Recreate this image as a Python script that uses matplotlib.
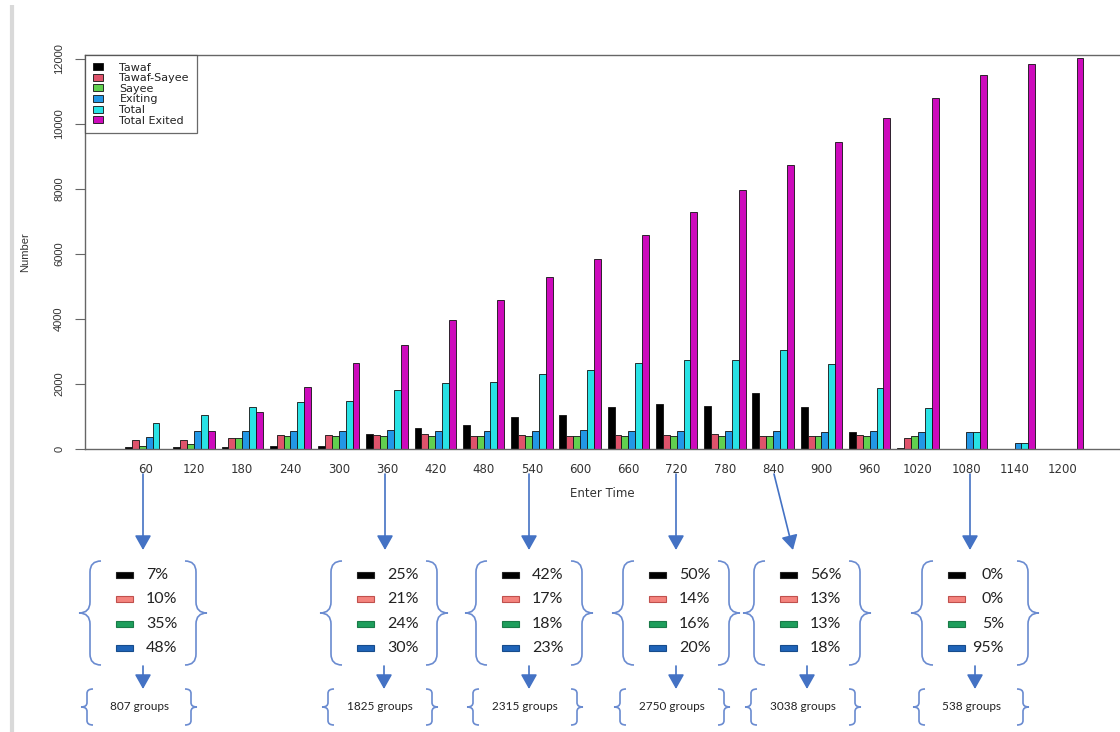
import matplotlib.pyplot as plt
from matplotlib.path import Path
from matplotlib.patches import PathPatch, Rectangle, FancyArrowPatch

# data
times = [60, 120, 180, 240, 300, 360, 420, 480, 540, 600,
         660, 720, 780, 840, 900, 960, 1020, 1080, 1140, 1200]
tawaf = [60, 60, 60, 90, 90, 465, 650, 730, 990, 1060,
         1290, 1380, 1330, 1720, 1280, 510, 20, 10, 5, 0]
tawaf_sayee = [270, 270, 330, 420, 445, 430, 455, 410, 430, 410,
               420, 430, 450, 410, 410, 440, 330, 0, 0, 0]
sayee = [85, 150, 330, 385, 385, 385, 390, 390, 390, 390,
         390, 390, 390, 390, 390, 390, 390, 0, 0, 0]
exiting = [370, 565, 565, 540, 555, 570, 555, 555, 555, 575,
           555, 555, 555, 550, 530, 560, 530, 510, 190, 0]
total = [807, 1060, 1305, 1440, 1490, 1825, 2030, 2070, 2315, 2420,
         2640, 2750, 2730, 3038, 2620, 1880, 1260, 538, 190, 0]
total_exited = [0, 565, 1150, 1910, 2650, 3190, 3960, 4570, 5300, 5860,
                6570, 7300, 7960, 8730, 9450, 10180, 10800, 11520, 11850, 12030]

series = [tawaf, tawaf_sayee, sayee, exiting, total, total_exited]
names = ['Tawaf', 'Tawaf-Sayee', 'Sayee', 'Exiting', 'Total', 'Total Exited']
colors = ['black', '#DF536B', '#61D04F', '#2297E6', '#28E2E5', '#CD0BBC']

# annotation boxes under the chart
ann_times = [60, 360, 540, 720, 840, 1080]
ann_pcts = [[7, 10, 35, 48], [25, 21, 24, 30], [42, 17, 18, 23],
            [50, 14, 16, 20], [56, 13, 13, 18], [0, 0, 5, 95]]
ann_groups = [807, 1825, 2315, 2750, 3038, 538]
box_cx = [143, 384, 529, 676, 807, 975]
arrow_start_x = [143, 385, 529, 676, 774, 970]
arrow_tip_x = [143, 385, 529, 676, 793, 970]
pct_colors = [('black', '#222222'), ('#F4837D', '#C0504D'),
              ('#1E9E5C', '#1A7A48'), ('#1F64B8', '#174C8C')]

W, H = 1120, 732
fig = plt.figure(figsize=(W / 100, H / 100), dpi=100)
fig.patch.set_facecolor('white')

ax = fig.add_axes([85 / W, 1 - 449 / H, (W - 85) / W, (449 - 55) / H])
for k, (vals, name, col) in enumerate(zip(series, names, colors)):
    xs = [7 * g + 1.5 + k for g in range(len(times))]
    ax.bar(xs, vals, width=1, color=col, edgecolor='#111111', linewidth=0.6, label=name)

centers = [7 * g + 4 for g in range(len(times))]
ax.set_xlim(-4.8, 145.3)
ax.set_ylim(0, 12120)
ax.set_xticks(centers)
ax.set_xticklabels([str(t) for t in times], fontsize=8.5, color='#333333',
                   family='DejaVu Sans')
ax.tick_params(axis='x', length=0, pad=10)
ax.set_yticks(range(0, 12001, 2000))
ax.set_yticklabels([str(v) for v in range(0, 12001, 2000)], rotation=90, va='center',
                   fontsize=8, color='#333333', family='Liberation Sans')
ax.tick_params(axis='y', length=7, width=0.8, color='#666666', pad=8)
for s in ['left', 'top', 'bottom']:
    ax.spines[s].set_color('#666666')
    ax.spines[s].set_linewidth(1.0)
ax.spines['right'].set_visible(False)
ax.set_xlabel('Enter Time', fontsize=8.5, color='#333333', labelpad=8,
              family='DejaVu Sans')
ax.set_ylabel('Number', fontsize=8, color='#333333', labelpad=17,
              family='Liberation Sans')

leg = ax.legend(loc='upper left', bbox_to_anchor=(0, 1), borderaxespad=0,
                fancybox=False, edgecolor='#444444',
                prop={'family': 'DejaVu Sans', 'size': 8},
                handlelength=0.9, handleheight=0.6, labelspacing=0.05,
                handletextpad=1.5, borderpad=0.7)
leg.get_frame().set_linewidth(0.9)
for t in leg.get_texts():
    t.set_color('#222222')

# overlay in pixel coordinates for the annotation part
ov = fig.add_axes([0, 0, 1, 1])
ov.set_xlim(0, W)
ov.set_ylim(H, 0)
ov.axis('off')

# screenshot border line on the left
ov.plot([11.5, 11.5], [5, H], color='#d9d9d9', lw=3, solid_capstyle='butt')

arrow_col = '#4472C4'
brace_col = '#6A8BD0'


def brace(x_tip, y0, y1, w, side):
    ym = (y0 + y1) / 2
    xm = x_tip + side * w * 0.5
    xe = x_tip + side * w
    r = min(w * 0.5, (y1 - y0) * 0.12)
    verts = [(xe, y0), (xm, y0), (xm, y0 + r),
             (xm, ym - r), (xm, ym), (x_tip, ym),
             (xm, ym), (xm, ym + r),
             (xm, y1 - r), (xm, y1), (xe, y1)]
    codes = [Path.MOVETO, Path.CURVE3, Path.CURVE3,
             Path.LINETO, Path.CURVE3, Path.CURVE3,
             Path.CURVE3, Path.CURVE3,
             Path.LINETO, Path.CURVE3, Path.CURVE3]
    ov.add_patch(PathPatch(Path(verts, codes), fill=False, edgecolor=brace_col, lw=1.2))


def arrow(x0, y0, x1, y1):
    ov.add_patch(FancyArrowPatch((x0, y0), (x1, y1),
                                 arrowstyle='-|>,head_length=0.8,head_width=0.45',
                                 mutation_scale=11, color=arrow_col, lw=1.2,
                                 shrinkA=0, shrinkB=0))


for i, t in enumerate(ann_times):
    cx = box_cx[i]
    arrow(arrow_start_x[i], 474, arrow_tip_x[i], 550)

    brace(cx - 64, 561, 665, 22, 1)
    brace(cx + 64, 561, 665, 22, -1)
    for j, p in enumerate(ann_pcts[i]):
        yy = 575 + j * 24.3
        fc, ec = pct_colors[j]
        ov.add_patch(Rectangle((cx - 27, yy - 3), 17, 6, facecolor=fc,
                               edgecolor=ec, lw=0.8))
        if i == len(ann_times) - 1:
            ov.text(cx + 29, yy, f'{p}%', ha='right', va='center', fontsize=11.5,
                    family='Lato', color='#222222')
        else:
            ov.text(cx + 3, yy, f'{p}%', ha='left', va='center', fontsize=11.5,
                    family='Lato', color='#222222')

    arrow(cx, 666, cx, 689)
    brace(cx - 62, 689, 725, 12, 1)
    brace(cx + 54, 689, 725, 12, -1)
    ov.text(cx - 4, 707, f'{ann_groups[i]} groups', ha='center', va='center',
            fontsize=8.5, family='Lato', color='#222222')

fig.savefig('out.png', dpi=100)
